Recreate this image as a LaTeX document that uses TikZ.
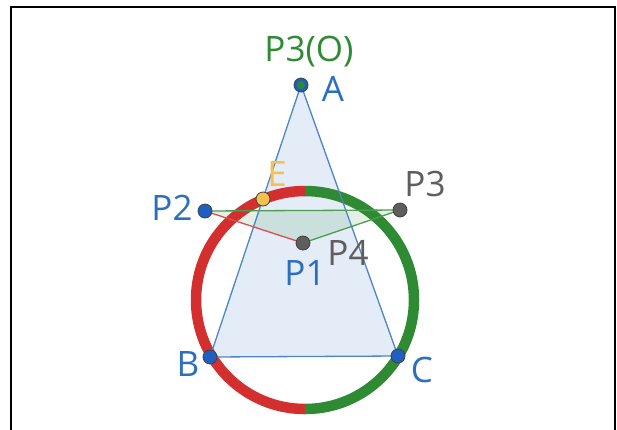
\documentclass[tikz,border=0pt]{standalone}
\usepackage{fontspec}
\setmainfont{Open Sans}
\usetikzlibrary{calc}

\definecolor{azul}{HTML}{2E6FBD}
\definecolor{azulpto}{HTML}{1F5FBF}
\definecolor{relleno}{HTML}{E3ECF7}
\definecolor{rojo}{HTML}{D32F2F}
\definecolor{verde}{HTML}{2F8A34}
\definecolor{gris}{HTML}{5E5E5E}
\definecolor{amarillo}{HTML}{F5C04E}

\tikzset{
  etiq/.style={font=\fontsize{35}{38}\selectfont, inner sep=0pt},
  pto/.style={circle, draw=black!75, line width=0.8pt, inner sep=0pt, minimum size=14pt},
}

\begin{document}
\begin{tikzpicture}[x=1pt, y=-1pt]
  \useasboundingbox (0,0) rectangle (617,429);
  % marco (abierto por abajo)
  \draw[line width=2pt] (11,440)--(11,7)--(615,7)--(615,440);
  % vértices y puntos (px, y hacia abajo)
  \coordinate (A) at (301,85);
  \coordinate (B) at (210,357);
  \coordinate (C) at (398,356);
  \coordinate (O) at (305,300);
  \coordinate (E) at (263,199);
  \coordinate (P1) at (303,243);
  \coordinate (P2) at (205,211);
  \coordinate (P3) at (400,210);
  % triángulo ABC
  \fill[relleno] (A)--(B)--(C)--cycle;
  \fill[verde, opacity=0.13] (P2)--(P3)--(P1)--cycle;
  % circunferencia: mitad izquierda roja, derecha verde
  \draw[rojo, line width=10.5pt] ($(O)+(0,-109)$) arc[start angle=-90, end angle=-270, radius=109];
  \draw[verde, line width=10.5pt] ($(O)+(0,-109)$) arc[start angle=-90, end angle=90, radius=109];
  % aristas
  \draw[azul!85, line width=1.3pt] (A)--(B)--(C)--cycle;
  \draw[verde!85, line width=1.3pt] (P2)--(P3)--(P1);
  \draw[rojo!85, line width=1.3pt] (P2)--(P1);
  % puntos
  \node[pto, fill=azulpto] (nA) at (A) {};
  \node[circle, fill=verde, inner sep=0pt, minimum size=8pt] (nO) at (A) {};
  \node[pto, fill=azulpto] (nB) at (B) {};
  \node[pto, fill=azulpto] (nC) at (C) {};
  \node[pto, fill=azulpto] (nP2) at (P2) {};
  \node[pto, fill=gris] (nP1) at (P1) {};
  \node[pto, fill=gris] (nP3) at (P3) {};
  \node[pto, fill=amarillo] (nE) at (E) {};
  % etiquetas
  \node[etiq, text=verde] (lO) at (309,52) {P3(O)};
  \node[etiq, text=azul] (lA) at (333,89) {A};
  \node[etiq, text=amarillo] (lE) at (277,174) {E};
  \node[etiq, text=azul] (lP2) at (172,208) {P2};
  \node[etiq, text=gris] (lP3) at (425,184) {P3};
  \node[etiq, text=gris] (lP4) at (348,253) {P4};
  \node[etiq, text=azul] (lP1) at (305,273) {P1};
  \node[etiq, text=azul] (lB) at (188,364) {B};
  \node[etiq, text=azul] (lC) at (422,370) {C};
\end{tikzpicture}
\end{document}
